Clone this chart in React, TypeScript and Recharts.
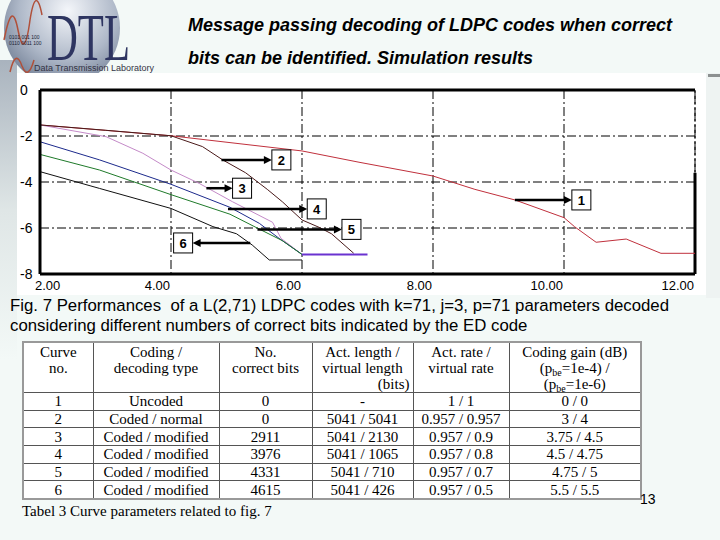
import { CartesianGrid, Line, LineChart, ReferenceLine, XAxis, YAxis } from "recharts";

// curves (x = Eb/N0 dB, y = log10 BER)
const curve1 = [
  { x: 2, y: -1.52 }, { x: 4, y: -1.99 }, { x: 6, y: -2.65 }, { x: 6.87, y: -3.14 },
  { x: 8, y: -3.74 }, { x: 8.64, y: -4.32 }, { x: 9.25, y: -4.78 }, { x: 10, y: -5.55 },
  { x: 10.16, y: -5.94 }, { x: 10.49, y: -6.62 }, { x: 10.95, y: -6.48 }, { x: 11.48, y: -7.1 }, { x: 12, y: -7.1 },
];
const curve2 = [
  { x: 2, y: -1.52 }, { x: 3, y: -1.75 }, { x: 4, y: -1.99 }, { x: 4.48, y: -2.46 },
  { x: 4.79, y: -3.04 }, { x: 5.14, y: -3.6 }, { x: 5.47, y: -4.32 }, { x: 5.7, y: -4.86 },
  { x: 6.0, y: -5.65 }, { x: 6.26, y: -5.97 }, { x: 6.45, y: -6.25 }, { x: 6.79, y: -7.1 },
];
const curve3 = [
  { x: 2, y: -1.52 }, { x: 3.01, y: -2.03 }, { x: 3.57, y: -2.75 }, { x: 4, y: -3.48 },
  { x: 4.43, y: -4.06 }, { x: 4.94, y: -4.86 }, { x: 5.55, y: -5.75 }, { x: 5.68, y: -6.45 }, { x: 6, y: -7.15 },
];
const curve4 = [
  { x: 2, y: -2.25 }, { x: 2.91, y: -3.04 }, { x: 4, y: -4.1 }, { x: 4.9, y: -5.1 },
  { x: 5.35, y: -5.8 }, { x: 5.65, y: -6.45 }, { x: 6, y: -7.15 },
];
const curve5 = [
  { x: 2, y: -2.8 }, { x: 2.91, y: -3.48 }, { x: 4, y: -4.55 }, { x: 4.9, y: -5.4 },
  { x: 5.35, y: -6.05 }, { x: 5.7, y: -6.55 }, { x: 6, y: -7.15 },
];
const curve6 = [
  { x: 2, y: -3.55 }, { x: 2.91, y: -4.28 }, { x: 4, y: -5.15 }, { x: 4.64, y: -5.94 },
  { x: 5.0, y: -6.25 }, { x: 5.24, y: -6.74 }, { x: 5.5, y: -7.39 }, { x: 6, y: -7.39 },
];
const floorLine = [{ x: 6, y: -7.15 }, { x: 7, y: -7.15 }];

const xTicks = [2, 4, 6, 8, 10, 12];
const yTicks = [0, -2, -4, -6, -8];

// curve number callouts: arrow from x1 to x2 at height y
const callouts = [
  { label: "1", x1: 9.25, x2: 10.12, y: -4.78 },
  { label: "2", x1: 4.77, x2: 5.54, y: -3.04 },
  { label: "3", x1: 4.54, x2: 4.94, y: -4.27 },
  { label: "4", x1: 4.87, x2: 6.08, y: -5.17 },
  { label: "5", x1: 5.32, x2: 6.61, y: -6.06 },
  { label: "6", x1: 5.21, x2: 4.33, y: -6.65 },
];

const headers = [
  ["Curve", "no."],
  ["Coding /", "decoding type"],
  ["No.", "correct bits"],
  ["Act. length /", "virtual length", "(bits)"],
  ["Act. rate /", "virtual rate"],
];
const curveNo = ["1", "2", "3", "4", "5", "6"];
const codingType = ["Uncoded", "Coded / normal", "Coded / modified", "Coded / modified", "Coded / modified", "Coded / modified"];
const correctBits = ["0", "0", "2911", "3976", "4331", "4615"];
const lengths = ["-", "5041 / 5041", "5041 / 2130", "5041 / 1065", "5041 / 710", "5041 / 426"];
const rates = ["1 / 1", "0.957 / 0.957", "0.957 / 0.9", "0.957 / 0.8", "0.957 / 0.7", "0.957 / 0.5"];
const gains = ["0 / 0", "3 / 4", "3.75 / 4.5", "4.5 / 4.75", "4.75 / 5", "5.5 / 5.5"];
const colWidths = [70, 126, 93, 101, 96, 132];

const sans = "'Liberation Sans', Arial, sans-serif";
const serif = "'Liberation Serif', 'Times New Roman', serif";
const dashDot = "9 3 2 3";

const Callout = (label: string, left: boolean) => (props: any) => {
  const { x1, y1, x2 } = props;
  const dir = x2 >= x1 ? 1 : -1;
  const bx = left ? x2 - 19 : x2;
  return (
    <g>
      <line x1={x1} y1={y1} x2={x2 - dir * 6} y2={y1} stroke="#000" strokeWidth={2.5} />
      <polygon points={`${x2},${y1} ${x2 - dir * 8},${y1 - 4} ${x2 - dir * 8},${y1 + 4}`} fill="#000" />
      <rect x={bx} y={y1 - 10} width={19} height={20} fill="#fff" stroke="#000" strokeWidth={1} />
      <text x={bx + 9.5} y={y1 + 5} textAnchor="middle" fontFamily={sans} fontWeight="bold" fontSize={13} fill="#000">{label}</text>
    </g>
  );
};

const YTick = (props: any) => (
  <text x={20} y={props.y + 5} fontFamily={sans} fontSize={14} fill="#000">{props.payload.value}</text>
);

const XTick = (props: any) => {
  const first = props.index === 0;
  return (
    <text x={first ? props.x - 5 : props.x - 1} y={props.y + 8} textAnchor={first ? "start" : "end"} fontFamily={sans} fontSize={13} fill="#000">
      {props.payload.value.toFixed(2)}
    </text>
  );
};

function Backdrop() {
  return (
    <svg width={720} height={540} style={{ position: "absolute", left: 0, top: 0 }}>
      <defs>
        <radialGradient id="globe" cx="0.55" cy="0.35" r="0.7">
          <stop offset="0" stopColor="#f4f6fa" />
          <stop offset="0.6" stopColor="#aeb8c8" />
          <stop offset="1" stopColor="#6f7c92" />
        </radialGradient>
        <linearGradient id="fade" x1="0" y1="0" x2="0" y2="1">
          <stop offset="0" stopColor="#a9b3be" />
          <stop offset="0.5" stopColor="#dfe6e6" />
          <stop offset="1" stopColor="#f3f9f7" />
        </linearGradient>
      </defs>
      <rect x={0} y={60} width={17} height={300} fill="url(#fade)" />
      <rect x={706} y={73} width={14} height={225} fill="#eef3f2" />
      <rect x={708} y={74} width={12} height={3} fill="#8c9090" />
      <circle cx={62} cy={28} r={58} fill="url(#globe)" />
      <path d="M4,40 C10,10 14,10 18,30 C22,50 26,50 30,20 C34,-5 38,-5 42,15" fill="none" stroke="#b0503a" strokeWidth={1.5} />
      <path d="M10,72 C14,55 18,55 22,66 C26,76 30,74 34,60" fill="none" stroke="#b0503a" strokeWidth={1.5} />
      <text x={9} y={39} fontFamily={sans} fontSize={5} fill="#223">0101 001 100</text>
      <text x={9} y={45} fontFamily={sans} fontSize={5} fill="#223">0110 0011 100</text>
      <rect x={17} y={73} width={689} height={222} fill="#fff" />
      <text x={47} y={60} fontFamily={serif} fontSize={68} fill="#2e3561" textLength={83} lengthAdjust="spacingAndGlyphs">DTL</text>
      <text x={34} y={71} fontFamily={sans} fontSize={8.5} fill="#334" textLength={120} lengthAdjust="spacingAndGlyphs">Data Transmission Laboratory</text>
    </svg>
  );
}

export default function App() {
  const cell = { border: "1px solid #555", padding: 0, textAlign: "center" as const, fontFamily: serif, fontSize: 15, color: "#000", overflow: "hidden" };
  const sub = { fontSize: 10, lineHeight: 0, verticalAlign: "baseline", position: "relative" as const, top: 3 };
  return (
    <div style={{ position: "absolute", left: 0, top: 0, width: 720, height: 540, background: "#f3f9f7", overflow: "hidden" }}>
      <Backdrop />
      <div style={{ position: "absolute", left: 188, top: 9, fontFamily: sans, fontStyle: "italic", fontWeight: "bold", fontSize: 18, lineHeight: "33px", color: "#000", whiteSpace: "nowrap" }}>
        <div>Message passing decoding of LDPC codes when correct</div>
        <div>bits can be identified. Simulation results</div>
      </div>
      <div style={{ position: "absolute", left: 0, top: 70 }}>
        <LineChart width={720} height={228} margin={{ top: 20, right: 25, bottom: 0, left: 15 }}>
          <CartesianGrid stroke="#000" strokeDasharray={dashDot} strokeWidth={1} />
          <XAxis type="number" dataKey="x" domain={[2, 12]} ticks={xTicks} tick={XTick} tickLine={false} axisLine={{ stroke: "#000", strokeWidth: 3 }} height={24} allowDataOverflow />
          <YAxis type="number" dataKey="y" domain={[-8, 0]} ticks={yTicks} tick={YTick} tickLine={false} axisLine={{ stroke: "#000", strokeWidth: 3 }} width={25} allowDataOverflow />
          <ReferenceLine y={0} stroke="#000" strokeWidth={3} />
          <ReferenceLine segment={[{ x: 12, y: -8 }, { x: 12, y: -3.6 }]} stroke="#000" strokeWidth={3} />
          <ReferenceLine segment={[{ x: 12, y: -3.6 }, { x: 12, y: 0 }]} stroke="#000" strokeDasharray={dashDot} />
          <Line data={curve1} dataKey="y" stroke="#c0303c" strokeWidth={1} dot={false} isAnimationActive={false} />
          <Line data={curve3} dataKey="y" stroke="#c48ac8" strokeWidth={1} dot={false} isAnimationActive={false} />
          <Line data={curve4} dataKey="y" stroke="#1c2a8c" strokeWidth={1} dot={false} isAnimationActive={false} />
          <Line data={curve5} dataKey="y" stroke="#1f7a2a" strokeWidth={1} dot={false} isAnimationActive={false} />
          <Line data={curve6} dataKey="y" stroke="#111" strokeWidth={1} dot={false} isAnimationActive={false} />
          <Line data={curve2} dataKey="y" stroke="#4a1a1a" strokeWidth={1} dot={false} isAnimationActive={false} />
          <Line data={floorLine} dataKey="y" stroke="#6a32d0" strokeWidth={2} dot={false} isAnimationActive={false} />
          {callouts.map((c) => (
            <ReferenceLine key={c.label} segment={[{ x: c.x1, y: c.y }, { x: c.x2, y: c.y }]} shape={Callout(c.label, c.x2 < c.x1)} />
          ))}
        </LineChart>
      </div>
      <div style={{ position: "absolute", left: 10, top: 296, fontFamily: sans, fontSize: 16.8, lineHeight: "20px", color: "#000", whiteSpace: "nowrap" }}>
        <div>Fig. 7 Performances&nbsp; of a L(2,71) LDPC codes with k=71, j=3, p=71 parameters decoded</div>
        <div>considering different numbers of correct bits indicated by the ED code</div>
      </div>
      <table style={{ position: "absolute", left: 22, top: 341, borderCollapse: "collapse", tableLayout: "fixed", width: 618, background: "#fff", border: "2px solid #999" }}>
        <colgroup>
          {colWidths.map((w, i) => <col key={i} style={{ width: w }} />)}
        </colgroup>
        <tbody>
          <tr style={{ height: 50 }}>
            {headers.map((h, i) => (
              <td key={i} style={{ ...cell, verticalAlign: "top", lineHeight: "16px", paddingTop: 1, height: 48 }}>
                {h.map((line, j) => (
                  <div key={j} style={j === 2 ? { textAlign: "right", paddingRight: 3 } : undefined}>{line}</div>
                ))}
              </td>
            ))}
            <td style={{ ...cell, verticalAlign: "top", lineHeight: "16px", paddingTop: 1, height: 48 }}>
              <div>Coding gain (dB)</div>
              <div>(p<span style={sub}>be</span>=1e-4) /</div>
              <div>(p<span style={sub}>be</span>=1e-6)</div>
            </td>
          </tr>
          {curveNo.map((n, i) => (
            <tr key={n} style={{ height: 17.7 }}>
              <td style={{ ...cell, lineHeight: "16px" }}>{n}</td>
              <td style={{ ...cell, lineHeight: "16px" }}>{codingType[i]}</td>
              <td style={{ ...cell, lineHeight: "16px" }}>{correctBits[i]}</td>
              <td style={{ ...cell, lineHeight: "16px" }}>{lengths[i]}</td>
              <td style={{ ...cell, lineHeight: "16px" }}>{rates[i]}</td>
              <td style={{ ...cell, lineHeight: "16px" }}>{gains[i]}</td>
            </tr>
          ))}
        </tbody>
      </table>
      <div style={{ position: "absolute", left: 22, top: 503, fontFamily: serif, fontSize: 15, color: "#000" }}>Tabel 3 Curve parameters related to fig. 7</div>
      <div style={{ position: "absolute", left: 640, top: 491, fontFamily: sans, fontSize: 14, color: "#000" }}>13</div>
    </div>
  );
}
